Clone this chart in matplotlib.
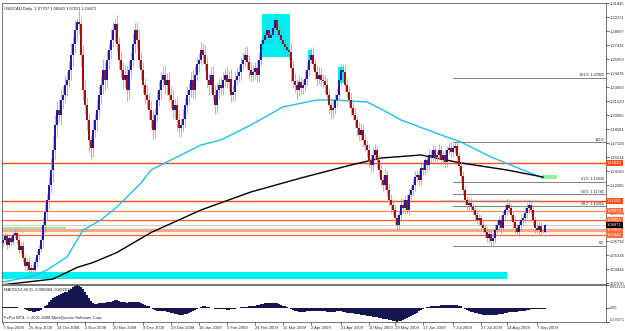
import numpy as np
import matplotlib
matplotlib.use("Agg")
import matplotlib.pyplot as plt
import matplotlib.transforms as mtransforms
from matplotlib.patches import Rectangle

# USDCAD daily bars, 7 Sep 2008 - 10 Sep 2009
first_open = 1.0660
closes = [
    1.069, 1.073, 1.064, 1.071, 1.067, 1.074, 1.077, 1.069, 1.059, 1.063,
    1.050, 1.042, 1.046, 1.038, 1.040, 1.038, 1.046, 1.053, 1.060, 1.069,
    1.085, 1.099, 1.111, 1.127, 1.143, 1.164, 1.190, 1.206, 1.201, 1.217,
    1.222, 1.232, 1.238, 1.248, 1.264, 1.275, 1.290, 1.299, 1.296, 1.264,
    1.227, 1.211, 1.195, 1.174, 1.166, 1.185, 1.195, 1.206, 1.222, 1.232,
    1.248, 1.238, 1.259, 1.269, 1.280, 1.290, 1.296, 1.275, 1.259, 1.248,
    1.238, 1.243, 1.227, 1.248, 1.259, 1.275, 1.290, 1.280, 1.259, 1.248,
    1.232, 1.222, 1.217, 1.206, 1.195, 1.185, 1.201, 1.217, 1.227, 1.238,
    1.243, 1.232, 1.238, 1.222, 1.217, 1.206, 1.211, 1.195, 1.187, 1.190,
    1.197, 1.211, 1.222, 1.227, 1.238, 1.227, 1.243, 1.254, 1.259, 1.269,
    1.264, 1.254, 1.238, 1.232, 1.243, 1.222, 1.211, 1.227, 1.232, 1.229,
    1.238, 1.243, 1.235, 1.239, 1.222, 1.225, 1.238, 1.242, 1.246, 1.254,
    1.259, 1.264, 1.257, 1.248, 1.243, 1.246, 1.250, 1.243, 1.259, 1.275,
    1.280, 1.285, 1.290, 1.282, 1.285, 1.292, 1.301, 1.290, 1.285, 1.280,
    1.275, 1.272, 1.269, 1.267, 1.250, 1.237, 1.232, 1.227, 1.235, 1.229,
    1.232, 1.239, 1.248, 1.259, 1.264, 1.254, 1.246, 1.239, 1.243, 1.238,
    1.236, 1.232, 1.222, 1.211, 1.206, 1.208, 1.217, 1.222, 1.238, 1.248,
    1.246, 1.232, 1.225, 1.217, 1.208, 1.201, 1.195, 1.187, 1.180, 1.185,
    1.174, 1.169, 1.164, 1.153, 1.148, 1.159, 1.164, 1.153, 1.143, 1.132,
    1.127, 1.138, 1.122, 1.111, 1.106, 1.101, 1.092, 1.085, 1.095, 1.106,
    1.103, 1.111, 1.101, 1.117, 1.122, 1.127, 1.135, 1.138, 1.132, 1.145,
    1.143, 1.153, 1.148, 1.159, 1.156, 1.164, 1.156, 1.159, 1.164, 1.153,
    1.159, 1.151, 1.164, 1.166, 1.162, 1.166, 1.168, 1.158, 1.147, 1.136,
    1.122, 1.111, 1.106, 1.108, 1.104, 1.101, 1.095, 1.090, 1.092, 1.085,
    1.082, 1.078, 1.071, 1.075, 1.068, 1.071, 1.080, 1.085, 1.090, 1.082,
    1.095, 1.101, 1.106, 1.103, 1.095, 1.088, 1.082, 1.078, 1.085, 1.090,
    1.092, 1.098, 1.103, 1.106, 1.101, 1.090, 1.082, 1.080, 1.084, 1.078,
    1.07707, 1.08471,
]
# wick lengths in pips above / below the candle body
upper_wick = [
    30, 40, 35, 45, 30, 40, 35, 30, 45, 40,
    50, 40, 45, 60, 35, 40, 50, 45, 40, 60,
    80, 90, 70, 100, 120, 150, 110, 90, 120, 100,
    90, 110, 80, 100, 120, 90, 110, 40, 120, 80,
    100, 120, 90, 80, 60, 110, 80, 100, 90, 110,
    120, 90, 100, 80, 110, 90, 60, 100, 80, 90,
    80, 100, 90, 110, 80, 120, 80, 90, 100, 80,
    90, 80, 100, 70, 90, 110, 80, 90, 100, 80,
    90, 100, 70, 80, 90, 100, 80, 90, 110, 80,
    100, 80, 90, 70, 80, 100, 90, 80, 70, 90,
    80, 100, 90, 70, 80, 90, 100, 80, 70, 90,
    80, 70, 90, 80, 100, 70, 80, 90, 70, 80,
    70, 80, 90, 70, 80, 70, 60, 90, 80, 70,
    90, 80, 100, 70, 80, 90, 55, 80, 70, 90,
    80, 70, 60, 80, 100, 90, 80, 70, 80, 60,
    70, 80, 90, 60, 70, 80, 60, 70, 80, 70,
    60, 70, 80, 60, 70, 80, 60, 70, 90, 60,
    60, 70, 80, 60, 70, 60, 70, 50, 60, 70,
    60, 70, 50, 60, 70, 80, 60, 50, 60, 70,
    60, 70, 50, 60, 70, 60, 50, 40, 60, 70,
    60, 50, 70, 60, 50, 60, 70, 50, 60, 70,
    50, 60, 40, 60, 50, 60, 50, 40, 60, 50,
    50, 60, 40, 50, 60, 40, 44, 50, 40, 50,
    60, 50, 40, 60, 50, 40, 50, 60, 40, 50,
    50, 40, 50, 60, 40, 50, 60, 50, 40, 50,
    50, 60, 70, 50, 40, 50, 60, 40, 50, 60,
    50, 60, 50, 60, 40, 50, 40, 60, 50, 40,
    30, 11,
]
lower_wick = [
    40, 35, 45, 30, 40, 35, 30, 45, 40, 50,
    45, 50, 40, 55, 60, 45, 40, 50, 45, 40,
    70, 80, 100, 90, 80, 130, 100, 120, 90, 110,
    100, 90, 110, 80, 100, 120, 90, 110, 100, 130,
    110, 90, 100, 120, 130, 100, 90, 110, 80, 100,
    90, 110, 80, 100, 90, 80, 120, 90, 100, 80,
    100, 80, 120, 90, 80, 70, 90, 100, 80, 90,
    80, 100, 90, 110, 80, 100, 90, 80, 70, 90,
    80, 90, 100, 80, 90, 80, 100, 110, 80, 90,
    70, 90, 80, 100, 70, 80, 90, 70, 80, 60,
    90, 70, 80, 100, 80, 70, 90, 80, 90, 70,
    70, 80, 60, 90, 80, 70, 80, 60, 70, 80,
    60, 70, 80, 90, 70, 60, 70, 80, 60, 70,
    70, 60, 80, 70, 60, 70, 80, 90, 70, 60,
    70, 80, 60, 70, 150, 80, 70, 90, 60, 70,
    60, 70, 80, 60, 50, 60, 70, 80, 60, 70,
    70, 80, 60, 90, 100, 80, 60, 70, 60, 70,
    60, 70, 60, 80, 70, 60, 70, 80, 60, 70,
    70, 60, 80, 70, 60, 70, 60, 80, 70, 60,
    60, 50, 70, 60, 80, 60, 70, 65, 50, 60,
    50, 60, 50, 60, 70, 50, 60, 40, 50, 60,
    50, 40, 60, 50, 60, 50, 40, 50, 60, 50,
    40, 60, 50, 40, 50, 60, 50, 40, 50, 60,
    50, 40, 60, 50, 40, 50, 60, 40, 50, 60,
    50, 60, 40, 50, 52, 60, 50, 40, 50, 60,
    40, 50, 60, 50, 40, 60, 50, 40, 50, 60,
    50, 40, 60, 50, 40, 50, 60, 40, 50, 40,
    8, 7,
]
macd = [
    0.003, 0.003, 0.002, 0.002, 0.003, 0.003, 0.002, 0.002, 0.001, 0.001,
    0.000, -0.002, -0.004, -0.006, -0.007, -0.008, -0.008, -0.007, -0.005, -0.003,
    0.000, 0.004, 0.008, 0.013, 0.018, 0.022, 0.025, 0.028, 0.030, 0.032,
    0.034, 0.036, 0.037, 0.040, 0.044, 0.047, 0.050, 0.052, 0.051, 0.048,
    0.043, 0.036, 0.029, 0.022, 0.017, 0.012, 0.010, 0.010, 0.011, 0.012,
    0.012, 0.012, 0.013, 0.014, 0.015, 0.017, 0.019, 0.018, 0.016, 0.014,
    0.013, 0.013, 0.012, 0.013, 0.014, 0.014, 0.015, 0.014, 0.013, 0.011,
    0.010, 0.008, 0.006, 0.004, 0.001, -0.001, -0.003, -0.005, -0.006, -0.006,
    -0.007, -0.007, -0.008, -0.009, -0.010, -0.011, -0.012, -0.013, -0.014, -0.014,
    -0.014, -0.013, -0.012, -0.010, -0.008, -0.006, -0.004, -0.002, 0.001, 0.003,
    0.004, 0.004, 0.003, 0.002, 0.001, 0.000, -0.001, -0.001, -0.002, -0.002,
    -0.002, -0.002, -0.003, -0.003, -0.002, -0.002, -0.001, 0.000, 0.001, 0.002,
    0.002, 0.003, 0.003, 0.004, 0.005, 0.005, 0.006, 0.007, 0.008, 0.009,
    0.010, 0.011, 0.011, 0.012, 0.012, 0.012, 0.012, 0.011, 0.010, 0.008,
    0.006, 0.004, 0.002, 0.000, -0.002, -0.004, -0.006, -0.007, -0.008, -0.008,
    -0.008, -0.008, -0.007, -0.007, -0.006, -0.006, -0.006, -0.007, -0.007, -0.007,
    -0.007, -0.007, -0.008, -0.008, -0.008, -0.008, -0.008, -0.007, -0.007, -0.007,
    -0.008, -0.009, -0.010, -0.010, -0.011, -0.011, -0.012, -0.013, -0.013, -0.014,
    -0.015, -0.016, -0.017, -0.018, -0.018, -0.019, -0.019, -0.020, -0.021, -0.022,
    -0.023, -0.024, -0.025, -0.026, -0.027, -0.028, -0.029, -0.030, -0.029, -0.028,
    -0.026, -0.024, -0.022, -0.020, -0.018, -0.016, -0.013, -0.010, -0.007, -0.004,
    -0.002, 0.000, 0.002, 0.003, 0.004, 0.005, 0.006, 0.006, 0.006, 0.007,
    0.007, 0.007, 0.007, 0.008, 0.008, 0.008, 0.008, 0.007, 0.006, 0.004,
    0.001, -0.002, -0.004, -0.006, -0.008, -0.009, -0.010, -0.011, -0.012, -0.013,
    -0.014, -0.014, -0.015, -0.015, -0.015, -0.015, -0.014, -0.014, -0.013, -0.013,
    -0.012, -0.011, -0.010, -0.009, -0.009, -0.008, -0.008, -0.008, -0.007, -0.007,
    -0.006, -0.005, -0.004, -0.003, -0.002, -0.002, -0.002, -0.002, -0.002, -0.002,
    -0.001, -0.000884,
]

# moving averages (bar index, price)
fast_ma_idx = [-1, 15, 22, 32, 40, 49, 57, 69, 74, 99, 109, 124, 140, 157, 165, 182, 190, 199, 219, 229, 244, 260, 270]
fast_ma_val = [1.0245, 1.0310, 1.0375, 1.0512, 1.0796, 1.0902, 1.1039, 1.1291, 1.1428, 1.1691, 1.1744, 1.1902,
               1.2092, 1.2165, 1.2165, 1.2144, 1.2060, 1.1955, 1.1797, 1.1723, 1.1565, 1.1428, 1.1344]
slow_ma_idx = [-1, 25, 37, 45, 57, 74, 99, 124, 149, 174, 189, 209, 229, 252, 270]
slow_ma_val = [1.0218, 1.0280, 1.0402, 1.0454, 1.0560, 1.0770, 1.1007, 1.1197, 1.1344, 1.1481, 1.1554, 1.1586,
               1.1502, 1.1428, 1.1354]

# horizontal support / resistance lines
level_prices = [1.1502, 1.1102, 1.0997, 1.0902, 1.0796, 1.0744]
bid_price = 1.08471

# fibonacci retracement (Jul 2009 high -> Aug 2009 low)
fib_high = 1.17210
fib_low = 1.06280
fib_levels = [161.8, 100.0, 61.8, 50.0, 38.2, 0.0]
fib_start = 225

price_ticks = [1.31845, 1.30371, 1.28897, 1.27424, 1.25950, 1.24476, 1.23003, 1.21529, 1.20055, 1.18581,
               1.17108, 1.15634, 1.14160, 1.12686, 1.11213, 1.09739, 1.08265, 1.06792, 1.05318, 1.03844, 1.02370]

date_idx = [0, 13, 27, 41, 55, 70, 84, 98, 112, 126, 140, 154, 169, 183, 196, 210, 225, 239, 252, 267]
date_labels = ["7 Sep 2008", "25 Sep 2008", "14 Oct 2008", "2 Nov 2008", "20 Nov 2008", "9 Dec 2008",
               "29 Dec 2008", "18 Jan 2009", "5 Feb 2009", "24 Feb 2009", "15 Mar 2009", "2 Apr 2009",
               "21 Apr 2009", "10 May 2009", "29 May 2009", "17 Jun 2009", "7 Jul 2009", "27 Jul 2009",
               "14 Aug 2009", "7 Sep 2009"]

plt.rcParams['font.family'] = ['Liberation Sans', 'DejaVu Sans']
FS = 3.0

W, H = 625, 331
fig = plt.figure(figsize=(W / 100, H / 100), dpi=100)
fig.patch.set_facecolor("white")


def px_box(x0, y0, x1, y1):
    return [x0 / W, 1 - y1 / H, (x1 - x0) / W, (y1 - y0) / H]


ax = fig.add_axes(px_box(2, 3, 606, 284))
axm = fig.add_axes(px_box(2, 285, 606, 322))

closes = np.array(closes)
opens = np.r_[first_open, closes[:-1]]
n = len(closes)
idx = np.arange(n)
highs = np.maximum(opens, closes) + np.array(upper_wick) / 10000
lows = np.minimum(opens, closes) - np.array(lower_wick) / 10000
up = closes >= opens
body = np.maximum(np.abs(closes - opens), 0.0004)

# background objects
ax.add_patch(Rectangle((129.5, 1.2618), 14, 0.0453, color="#00f0f0", lw=0, zorder=1))
ax.add_patch(Rectangle((152.5, 1.2586), 2, 0.0106, color="#00f0f0", lw=0, zorder=1))
ax.add_patch(Rectangle((167.5, 1.2344), 3, 0.0169, color="#00f0f0", lw=0, zorder=1))
ax.add_patch(Rectangle((-0.5, 1.0280), 252.5, 0.0074, color="#00f0f0", lw=0, zorder=1))
ax.add_patch(Rectangle((-0.5, 1.0786), 32, 0.0042, color="#98ec98", lw=0, zorder=1))
ax.add_patch(Rectangle((269.5, 1.1333), 7.5, 0.0043, color="#98ec98", lw=0, zorder=1))

level_colors = ["#ff4a14", "#ff4a14", "#ff8a5a", "#ff6030", "#f6a88a", "#ff6030"]
level_widths = [1.0, 1.0, 0.9, 0.9, 2.4, 0.9]
for p, c, w in zip(level_prices, level_colors, level_widths):
    ax.axhline(p, color=c, lw=w, zorder=1.5)
ax.axhline(bid_price, color="#c8c8c8", lw=0.6, zorder=1.4)
ax.plot([219, 267.5], [1.1112, 1.1112], color="#a8dcf8", lw=0.8, zorder=1.5)

# fibonacci lines
for lvl in fib_levels:
    p = fib_low + (fib_high - fib_low) * lvl / 100
    ax.plot([fib_start, 301.5], [p, p], color="#808080", lw=0.7, zorder=1.6)
    txt = f"{lvl:.1f}" if lvl in (100.0, 0.0) else f"{lvl:.1f}  {p:.5f}"
    ax.text(300.5, p + 0.0006, txt, fontsize=FS * 0.9, ha="right", va="bottom", color="#202020", zorder=5)

# moving averages
ax.plot(fast_ma_idx, fast_ma_val, color="#20bff0", lw=1.0, zorder=2)
ax.plot(slow_ma_idx, slow_ma_val, color="#000000", lw=1.0, zorder=2)

# candles
ax.vlines(idx, lows, highs, color="#9a9a9a", lw=0.5, zorder=3)
ax.bar(idx[up], body[up], bottom=opens[up], width=0.55, color="#1c1ca8", lw=0, zorder=4)
ax.bar(idx[~up], body[~up], bottom=closes[~up], width=0.55, color="#a01010", lw=0, zorder=4)

ax.set_xlim(-0.5, 301.5)
ax.set_ylim(1.0228, 1.3186)
ax.set_xticks([])
ax.yaxis.tick_right()
ax.set_yticks(price_ticks)
ax.set_yticklabels([f"{t:.5f}" for t in price_ticks])
ax.tick_params(axis="y", labelsize=FS, length=2, width=0.5, pad=1, colors="#303030")
for s in ax.spines.values():
    s.set_linewidth(0.5)
    s.set_color("#404040")

# highlighted price labels on the right scale
tr = mtransforms.blended_transform_factory(ax.transAxes, ax.transData)
label_bg = ["#ff4a14", "#ff4a14", "#ff6a3a", "#ff6a3a", "#ff6a3a", "#ff6a3a"]
for p, c in zip(level_prices, label_bg):
    ax.text(1.002, p, f"{p:.5f}", transform=tr, fontsize=FS, ha="left", va="center", color="white",
            bbox=dict(boxstyle="square,pad=0.25", fc=c, ec="none"), clip_on=False, zorder=6)
ax.text(1.002, bid_price, f"{bid_price:.5f}", transform=tr, fontsize=FS, ha="left", va="center",
        color="white", bbox=dict(boxstyle="square,pad=0.25", fc="#000000", ec="none"), clip_on=False, zorder=7)

fig.text(4 / W, 1 - 10 / H, "USDCAD,Daily  1.07707 1.08580 1.07631 1.08471", fontsize=FS, color="#202020")

# MACD panel
macd_top, macd_bottom = 0.052124, -0.030710
axm.bar(idx, macd, width=0.6, color="#141450", lw=0)
axm.set_xlim(-0.5, 301.5)
axm.set_ylim(macd_bottom, macd_top)
axm.yaxis.tick_right()
axm.set_yticks([macd_top, 0.0, macd_bottom])
axm.set_yticklabels([])
axm.tick_params(axis="y", length=2, width=0.5)
trm = mtransforms.blended_transform_factory(axm.transAxes, axm.transData)
axm.text(1.006, macd_top, "0.052124", transform=trm, fontsize=FS * 0.9, va="top", color="#303030")
axm.text(1.006, 0.0, "0.00", transform=trm, fontsize=FS * 0.9, va="center", color="#303030")
axm.text(1.006, macd_bottom, "-0.03071", transform=trm, fontsize=FS * 0.9, va="bottom", color="#303030")
axm.set_xticks(date_idx)
axm.set_xticklabels(date_labels, ha="left")
axm.tick_params(axis="x", labelsize=FS, length=2, width=0.5, pad=1, colors="#303030")
for s in axm.spines.values():
    s.set_linewidth(0.5)
    s.set_color("#404040")
axm.text(0.003, 0.93, "MACD(12,26,9) -0.000884 -0.002019", transform=axm.transAxes, fontsize=FS,
         va="top", color="#202020")
axm.text(0.003, 0.06, "FxPro MT4, \u00a9 2001-2008 MetaQuotes Software Corp.", transform=axm.transAxes,
         fontsize=FS, va="bottom", color="#202020")

fig.savefig("out.png", dpi=100)
